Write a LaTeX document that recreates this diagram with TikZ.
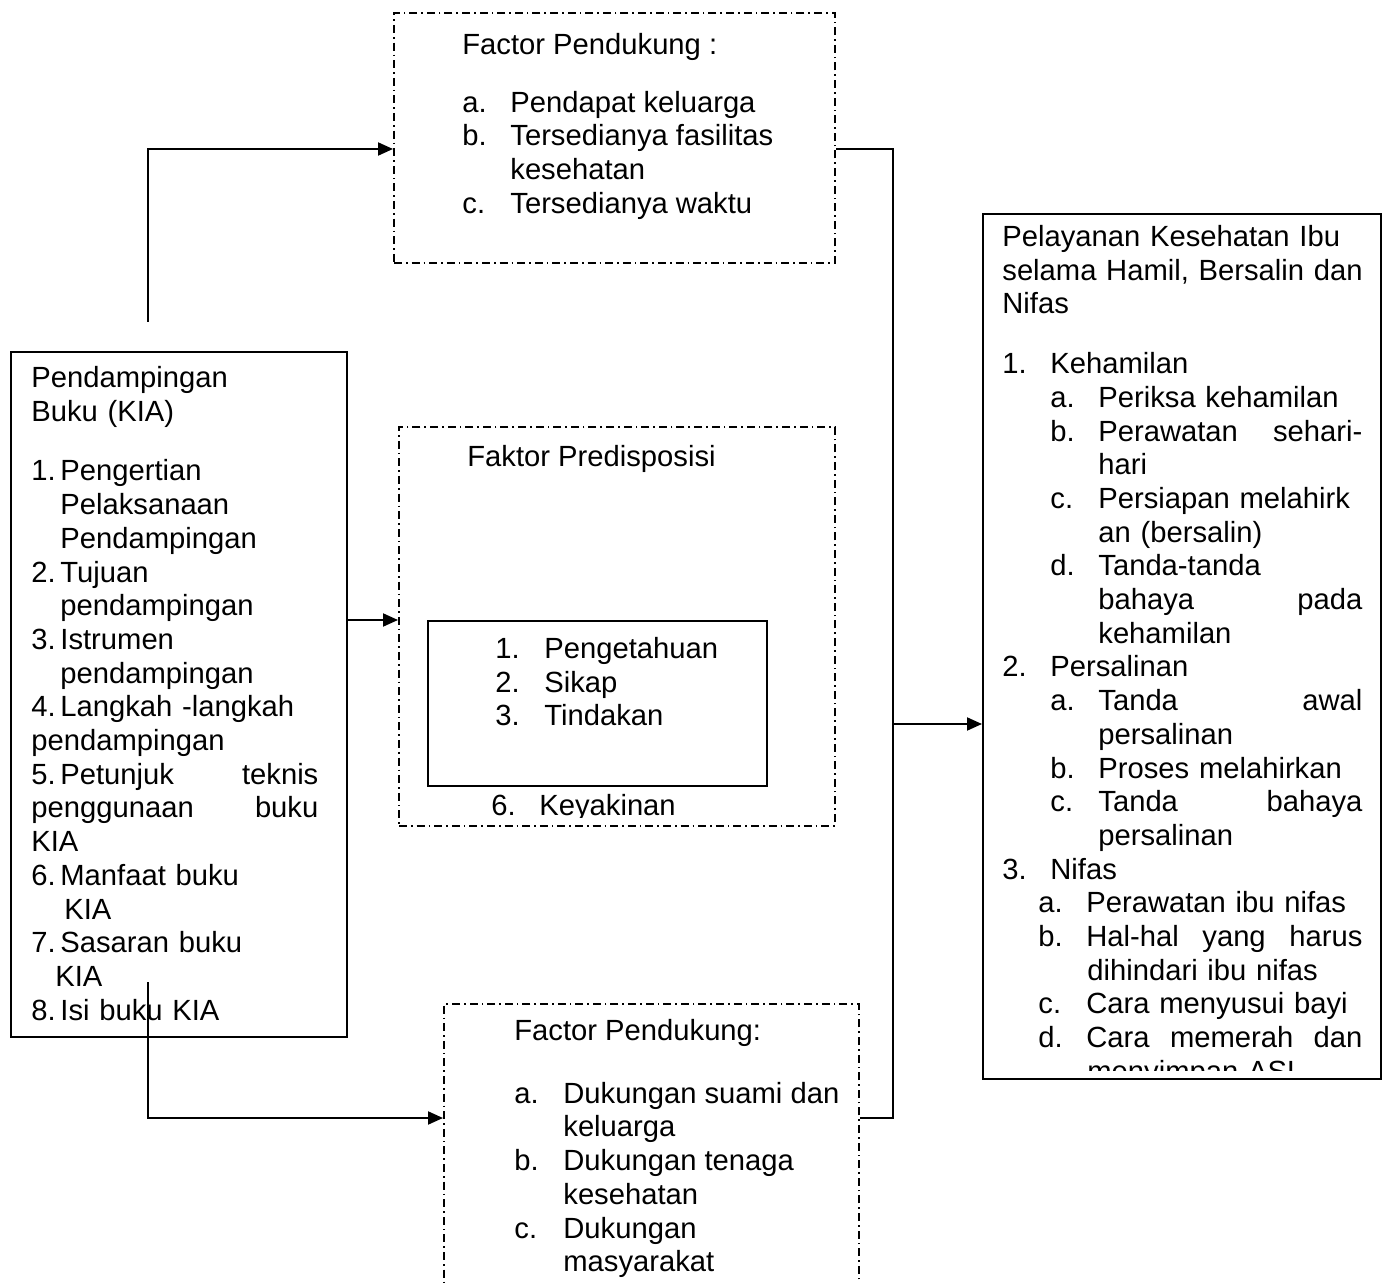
\documentclass[tikz,border=0pt]{standalone}
\usepackage{fontspec}
\setmainfont{Liberation Sans}
\usepackage{tikz}
\usetikzlibrary{calc,arrows.meta}
\newcommand{\lbl}[2][24pt]{\makebox[#1][l]{#2}}
\newcommand{\ind}[1]{\hspace*{#1}}

\begin{document}
\begin{tikzpicture}[x=0.5pt,y=-0.5pt,
  frame/.style={draw, line width=1pt, inner sep=0pt, anchor=north west},
  dashframe/.style={frame, dash pattern=on 4pt off 2pt on 0.8pt off 2pt},
  txt/.style={anchor=north west, inner sep=0pt, align=left, font=\fontsize{14.6pt}{16.85pt}\selectfont},
  conn/.style={line width=1pt},
  arr/.style={conn, -{Triangle[length=7.5pt,width=6.5pt]}}]
\clip (0,0) rectangle (1388,1283);

\node[frame, minimum width=168pt, minimum height=342.5pt] at (10,351)(kia) {};
\node[dashframe, minimum width=220.5pt, minimum height=125pt] at (393,12)(supp) {};
\node[dashframe, minimum width=218pt, minimum height=199.5pt] at (398,426)(pred) {};
\node[frame, minimum width=169.5pt, minimum height=82.5pt] at (427,620)(know) {};
\node[dashframe, minimum width=207.5pt, minimum height=165pt] at (443,1003)(dukung) {};
\node[frame, minimum width=199pt, minimum height=432.5pt] at (982,213)(care) {};

\node[txt, text width=143.5pt] at (31,366)(kiatxt) {Pendampingan\\
Buku (KIA)\\[13pt]
\lbl[14.5pt]{1.}Pengertian\\
\ind{14.5pt}Pelaksanaan\\
\ind{14.5pt}Pendampingan\\
\lbl[14.5pt]{2.}Tujuan\\
\ind{14.5pt}pendampingan\\
\lbl[14.5pt]{3.}Istrumen\\
\ind{14.5pt}pendampingan\\
\lbl[14.5pt]{4.}Langkah -langkah\\
pendampingan\\
\lbl[14.5pt]{5.}Petunjuk\hfill teknis\\
penggunaan\hfill buku\\
KIA\\
\lbl[14.5pt]{6.}Manfaat buku\\
\ind{16.5pt}KIA\\
\lbl[14.5pt]{7.}Sasaran buku\\
\ind{12pt}KIA\\
\lbl[14.5pt]{8.}Isi buku KIA};

\node[txt] at (462,33)(supptxt) {Factor Pendukung :\\[12pt]
\lbl{a.}Pendapat keluarga\\
\lbl{b.}Tersedianya fasilitas\\
\ind{24pt}kesehatan\\
\lbl{c.}Tersedianya waktu};

\node[txt] at (467,445)(predtxt) {Faktor Predisposisi};
\node[txt] at (495,637)(knowtxt) {\lbl[24.5pt]{1.}Pengetahuan\\
\lbl[24.5pt]{2.}Sikap\\
\lbl[24.5pt]{3.}Tindakan};
\begin{scope}
\clip (pred.north west) rectangle ($(pred.south east)+(0,-10)$);
\node[txt] at (491,794)(belieftxt) {\lbl{6.}Keyakinan};
\end{scope}

\node[txt] at (514,1019)(dukungtxt) {Factor Pendukung:\\[14.5pt]
\lbl[24.5pt]{a.}Dukungan suami dan\\
\ind{24.5pt}keluarga\\
\lbl[24.5pt]{b.}Dukungan tenaga\\
\ind{24.5pt}kesehatan\\
\lbl[24.5pt]{c.}Dukungan\\
\ind{24.5pt}masyarakat};

\begin{scope}
\clip (care.north west) rectangle ($(care.south east)+(0,-10)$);
\node[txt, text width=180pt] at (1002,225)(caretxt) {Pelayanan Kesehatan Ibu\\
\mbox{selama Hamil, Bersalin dan}\\
Nifas\\[13pt]
\lbl{1.}Kehamilan\\
\ind{24pt}\lbl{a.}Periksa kehamilan\\
\ind{24pt}\lbl{b.}Perawatan\hfill sehari-\\
\ind{48pt}hari\\
\ind{24pt}\lbl{c.}Persiapan melahirk\\
\ind{48pt}an (bersalin)\\
\ind{24pt}\lbl{d.}Tanda-tanda\\
\ind{48pt}bahaya\hfill pada\\
\ind{48pt}kehamilan\\
\lbl{2.}Persalinan\\
\ind{24pt}\lbl{a.}Tanda\hfill awal\\
\ind{48pt}persalinan\\
\ind{24pt}\lbl{b.}Proses melahirkan\\
\ind{24pt}\lbl{c.}Tanda\hfill bahaya\\
\ind{48pt}persalinan\\
\lbl{3.}Nifas\\
\ind{18pt}\lbl{a.}Perawatan ibu nifas\\
\ind{18pt}\lbl{b.}Hal-hal\hfill yang\hfill harus\\
\ind{42.5pt}dihindari ibu nifas\\
\ind{18pt}\lbl{c.}Cara menyusui bayi\\
\ind{18pt}\lbl{d.}Cara\hfill memerah\hfill dan\\
\ind{42.5pt}menyimpan ASI};
\end{scope}

\coordinate (kiaup) at (148,322);
\coordinate (kiadown) at (148,982);
\coordinate (bustop) at (893,149);
\coordinate (busmid) at (893,724);
\coordinate (busbot) at (893,1118);

\draw[arr] (kiaup) |- (supp.west |- bustop);
\draw[arr] (kia.east |- know.north) -- (pred.west |- know.north);
\draw[arr] (kiadown) |- (dukung.west |- busbot);
\draw[conn] (supp.east |- bustop) -- (bustop) -- (busbot) -- (dukung.east |- busbot);
\draw[arr] (busmid) -- (care.west |- busmid);

\end{tikzpicture}
\end{document}
